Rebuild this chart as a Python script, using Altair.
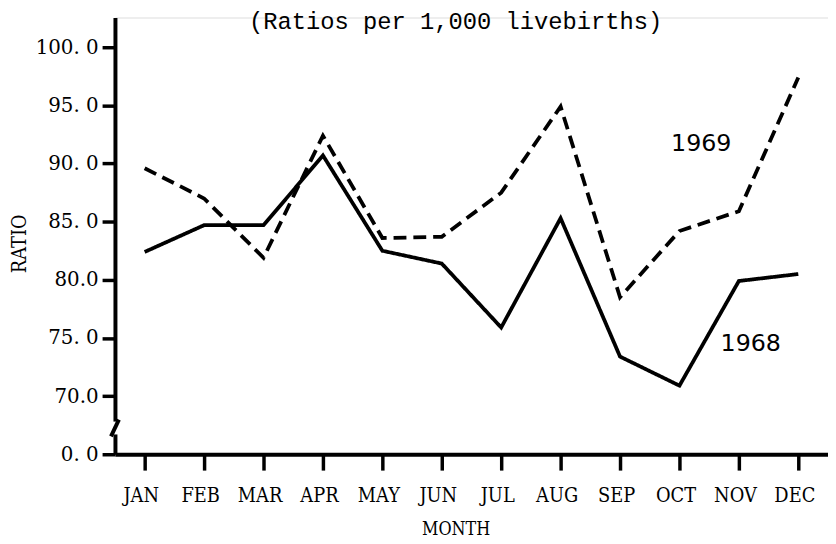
import altair as alt
import pandas as pd

months = ["JAN", "FEB", "MAR", "APR", "MAY", "JUN", "JUL", "AUG", "SEP", "OCT", "NOV", "DEC"]
ratio_1968 = [82.4, 84.7, 84.7, 90.7, 82.5, 81.4, 75.9, 85.3, 73.4, 70.9, 79.9, 80.5]
ratio_1969 = [89.6, 87.0, 81.9, 92.4, 83.6, 83.7, 87.5, 94.9, 78.5, 84.2, 85.9, 97.4]
years = ["1968", "1969"]

y_tick_values = [65, 70, 75, 80, 85, 90, 95, 100]
y_tick_labels = ["0. 0", "70.0", "75. 0", "80.0", "85. 0", "90. 0", "95. 0", "100. 0"]

label_text = ["1968", "1969"]
label_month = ["NOV", "OCT"]
label_value = [74.5, 91.7]
label_dx = [12, 22]

title_text = "(Ratios per 1,000 livebirths)"

df = pd.DataFrame({
    "month": months * 2,
    "ratio": ratio_1968 + ratio_1969,
    "year": [years[0]] * len(months) + [years[1]] * len(months),
})

label_expr = "[" + ",".join(f"'{t}'" for t in y_tick_labels) + "][indexof([" + \
    ",".join(str(v) for v in y_tick_values) + "], datum.value)]"

x_enc = alt.X("month:O", sort=months, title="MONTH",
              axis=alt.Axis(labelAngle=0, labelFont="DejaVu Serif Condensed", labelFontSize=20,
                            labelColor="black", labelPadding=26, labelBaseline="middle",
                            labelOffset=-4,
                            tickSize=16, tickWidth=3.5, tickColor="black",
                            domainWidth=4, domainColor="black",
                            titleFont="DejaVu Serif Condensed", titleFontSize=18, titleFontWeight="normal",
                            titleColor="black", titleX=344, titleY=76, titleBaseline="middle",
                            titleAlign="center"))
y_enc = alt.Y("ratio:Q", title="RATIO",
              scale=alt.Scale(domain=[65, 102.56], nice=False, zero=False),
              axis=alt.Axis(values=y_tick_values, labelExpr=label_expr, grid=False,
                            labelFont="DejaVu Serif", labelFontSize=20, labelColor="black",
                            labelPadding=4, tickSize=13, tickWidth=3.5, tickColor="black",
                            domainWidth=4, domainColor="black",
                            titleFont="DejaVu Serif Condensed", titleFontSize=20, titleFontWeight="normal",
                            titleColor="black", titleX=-96, titleY=228, titleAngle=-90,
                            titleAlign="center", titleBaseline="middle"))

lines = alt.Chart(df).mark_line(strokeWidth=3.8, color="black", strokeCap="butt").encode(
    x=x_enc,
    y=y_enc,
    strokeDash=alt.StrokeDash("year:N", scale=alt.Scale(domain=years, range=[[1, 0], [13, 7]]), legend=None),
    detail="year:N",
)

layers = [lines]
for t, m, v, dx in zip(label_text, label_month, label_value, label_dx):
    ann = pd.DataFrame({"month": [m], "ratio": [v], "text": [t]})
    layers.append(
        alt.Chart(ann).mark_text(font="DejaVu Sans", fontSize=24, color="black",
                                 align="center", baseline="middle", dx=dx).encode(
            x=alt.X("month:O", sort=months), y="ratio:Q", text="text:N")
    )

title = alt.Chart(alt.Data(values=[{}])).mark_text(
    text=title_text, font="Liberation Mono", fontSize=24, color="black",
    align="center", baseline="alphabetic").encode(x=alt.value(344), y=alt.value(12))

gap = alt.Chart(alt.Data(values=[{}])).mark_rule(color="white", strokeWidth=9).encode(
    x=alt.value(0), y=alt.value(408), y2=alt.value(421))
slash = alt.Chart(alt.Data(values=[{}])).mark_rule(color="black", strokeWidth=4).encode(
    x=alt.value(4), x2=alt.value(-4), y=alt.value(406), y2=alt.value(423))

chart = alt.layer(*layers, title, gap, slash).properties(
    width=720, height=441,
    autosize=alt.AutoSizeParams(type="none"),
    padding={"left": 108, "top": 7, "right": 0, "bottom": 88},
).configure_view(stroke=None).configure(background="white")

chart.save("out.html", embed_options={"renderer": "svg", "actions": False})
